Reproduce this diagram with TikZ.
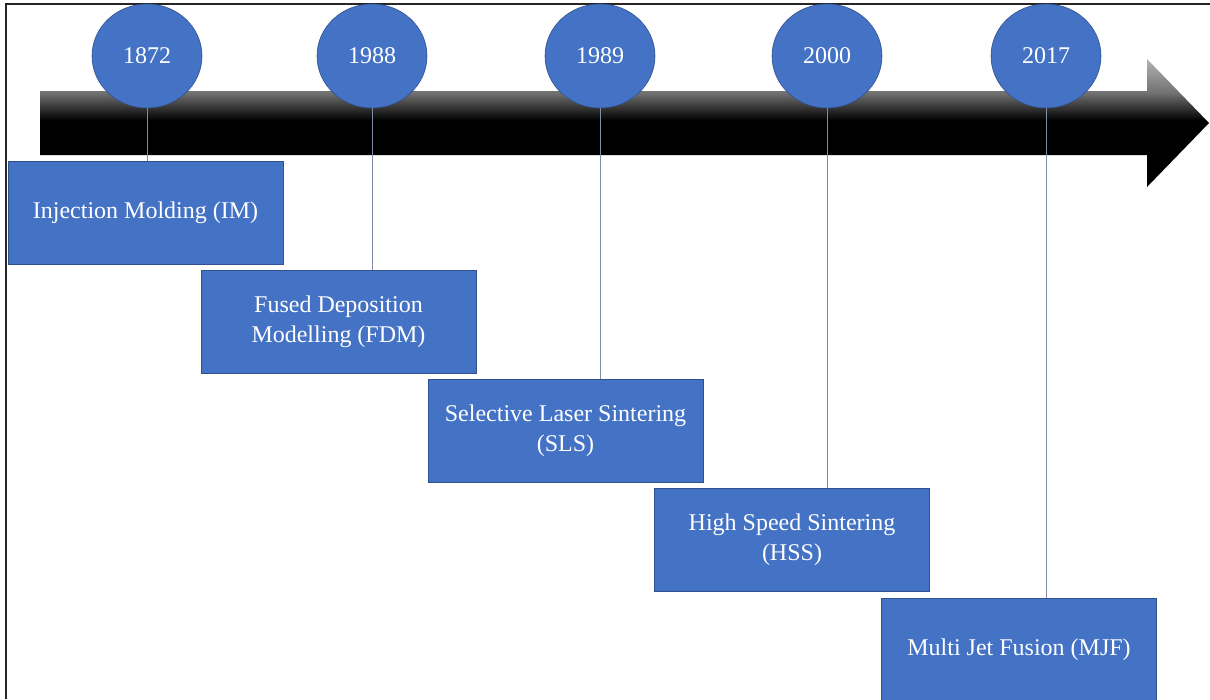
\documentclass[tikz,border=0pt]{standalone}
\usepackage{fontspec}
\setmainfont{Liberation Serif}
\usetikzlibrary{positioning,shapes.geometric}
\definecolor{yearblue}{HTML}{4472C4}
\definecolor{edgeblue}{HTML}{2F528F}
\definecolor{stemgray}{HTML}{7F8CA3}
\pgfdeclareverticalshading{timeshade}{100bp}{color(0bp)=(black); color(25bp)=(black); color(51bp)=(black); color(62bp)=(black!55); color(75bp)=(black!30); color(100bp)=(black!30)}

\begin{document}
\begin{tikzpicture}[x=1pt,y=-1pt,
  font=\fontsize{24}{30}\selectfont,
  yearnode/.style={ellipse,fill=yearblue,draw=edgeblue,line width=0.6pt,minimum width=110pt,minimum height=104pt,inner sep=0pt,text=white},
  techbox/.style={rectangle,fill=yearblue,draw=edgeblue,line width=0.6pt,minimum width=275pt,minimum height=103pt,align=center,text=white,inner sep=2pt},
  stemline/.style={stemgray,line width=1pt},
]
\useasboundingbox (0,0) rectangle (1210,699);

% Frame (top and left only)
\draw[line width=1.2pt,black!85] (6,699) -- (6,4) -- (1210,4);

% Timeline arrow
\shade[shading=timeshade] (40,91) -- (1147,91) -- (1147,59) -- (1209,123) -- (1147,187) -- (1147,155) -- (40,155) -- cycle;

% Years
\node[yearnode] (y1872) at (147,56)  {1872};
\node[yearnode] (y1988) at (372,56)  {1988};
\node[yearnode] (y1989) at (600,56)  {1989};
\node[yearnode] (y2000) at (827,56)  {2000};
\node[yearnode] (y2017) at (1046,56) {2017};

% Technologies, stepping down
\node[techbox] (im)  at (145.5,212.5) {Injection Molding (IM)};
\node[techbox] (fdm) at (338.5,321.5) {Fused Deposition\\Modelling (FDM)};
\node[techbox] (sls) at (565.5,430.5) {Selective Laser Sintering\\(SLS)};
\node[techbox] (hss) at (792,539.5)   {High Speed Sintering\\(HSS)};
\node[techbox] (mjf) at (1019,649.5)  {Multi Jet Fusion (MJF)};

% Stems
\draw[stemline] (y1872.south) -- (y1872.south |- im.north);
\draw[stemline] (y1988.south) -- (y1988.south |- fdm.north);
\draw[stemline] (y1989.south) -- (y1989.south |- sls.north);
\draw[stemline] (y2000.south) -- (y2000.south |- hss.north);
\draw[stemline] (y2017.south) -- (y2017.south |- mjf.north);
\end{tikzpicture}
\end{document}
